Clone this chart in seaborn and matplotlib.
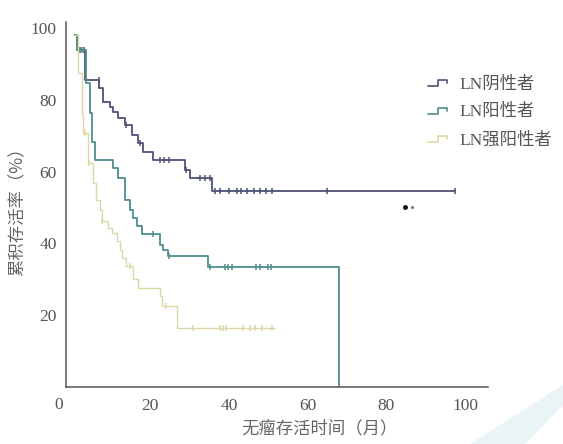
import numpy as np
import matplotlib
matplotlib.use("Agg")
import matplotlib.pyplot as plt
from matplotlib.lines import Line2D
from matplotlib.legend_handler import HandlerBase
from matplotlib.patches import Polygon
import seaborn as sns

sns.set_style("white")
plt.rcParams['font.family'] = ['Liberation Serif', 'Noto Sans CJK SC', 'DejaVu Sans']

# ---------------- data ----------------
labels = ["LN阴性者", "LN阳性者", "LN强阳性者"]
colors = ["#4d5176", "#4f8e8c", "#dcd8a6"]

neg_t = [1.0, 1.5, 3.6, 7.1, 8.0, 9.8, 10.6, 11.9, 13.6, 15.3, 17.0, 18.2, 20.8, 28.9, 30.1, 35.6, 97.5]
neg_s = [98, 94, 85.5, 83.2, 79.5, 78, 76.5, 75, 73, 70.3, 68, 65.6, 63.3, 60.5, 58.3, 54.5, 54.5]
neg_cens = [2.2, 3.2, 7.0, 14.0, 17.5, 22.5, 23.5, 24.8, 29.2, 32.7, 34.0, 35.2, 36.5, 37.7,
            40.0, 42.0, 43.2, 44.5, 46.5, 48.0, 49.5, 51.0, 65.0, 97.5]

pos_t = [1.0, 1.5, 3.8, 4.7, 5.2, 6.0, 10.7, 11.9, 13.6, 14.9, 15.7, 16.6, 17.9, 22.5, 23.3, 24.5, 34.8, 68.0]
pos_s = [98, 94, 84.7, 76.4, 68.4, 63.3, 61, 58.3, 52.2, 49.4, 47.2, 44.8, 42.5, 39.7, 38.3, 36.5, 33.4, 0]
pos_cens = [2.6, 20.8, 24.8, 35.2, 39.0, 39.8, 40.7, 47.0, 47.9, 50.0, 50.6]

strong_t = [1.0, 1.8, 2.6, 3.0, 4.3, 5.4, 6.4, 7.3, 7.7, 9.4, 10.3, 11.5, 12.4, 13.0, 14.0,
            15.7, 17.0, 22.5, 23.0, 26.8, 51.7]
strong_s = [98, 87.5, 75.4, 70.8, 62.5, 56.9, 52.2, 49.4, 46.2, 44.4, 43.0, 40.6, 38.3, 36.0,
            33.7, 30.0, 27.7, 25.4, 22.6, 16.3, 16.3]
strong_cens = [3.5, 4.6, 7.9, 15.0, 24.0, 31.0, 37.7, 38.6, 39.4, 43.6, 45.4, 46.6, 48.3, 50.9]

xticks = [20, 40, 60, 80, 100]
origin_label = "0"
yticks = [20, 40, 60, 80, 100]
xlabel = "无瘤存活时间（月）"
ylabel = "累积存活率（%）"

series = [(neg_t, neg_s, neg_cens), (pos_t, pos_s, pos_cens), (strong_t, strong_s, strong_cens)]

# ---------------- figure ----------------
fig = plt.figure(figsize=(5.63, 4.44), dpi=100)
fig.patch.set_facecolor("white")

# faint watermark band bottom-right
fig.patches.append(Polygon([[470/563, 0], [1.0, 1 - 385/444], [1.0, 1 - 405/444], [525/563, 0]],
                           closed=True, transform=fig.transFigure, facecolor="#eaf3f6",
                           edgecolor="none", zorder=0))

ax = fig.add_axes([66.4/563, 1 - 387/444, (488 - 66.4)/563, (387 - 22)/444])
ax.set_facecolor("none")

lws = [1.3, 1.3, 1.0]
for (t, s, c), col, lab, lw in zip(series, colors, labels, lws):
    sns.lineplot(x=t, y=s, drawstyle="steps-post", color=col, lw=lw, ax=ax,
                 estimator=None, sort=False, legend=False)
    t_arr = np.asarray(t)
    s_arr = np.asarray(s)
    idx = np.searchsorted(t_arr, np.asarray(c), side="right") - 1
    cy = s_arr[np.clip(idx, 0, len(s_arr) - 1)]
    sns.scatterplot(x=c, y=cy, marker="|", s=18, color=col, linewidth=1.1, ax=ax, legend=False)

ax.set_xlim(-1.24, 105.8)
ax.set_ylim(0, 101.7)
ax.set_xticks(xticks)
ax.set_yticks(yticks)
for sp in ["top", "right"]:
    ax.spines[sp].set_visible(False)
for sp in ["left", "bottom"]:
    ax.spines[sp].set_color("#555555")
    ax.spines[sp].set_linewidth(1.1)
ax.tick_params(direction="in", length=5, width=1, colors="#555555",
               labelsize=12.5, labelcolor="#555555")
ax.tick_params(axis="x", pad=8)
ax.tick_params(axis="y", pad=7)
ax.set_xlabel("")
ax.set_ylabel("")

fig.text(59/563, 1 - 405/444, origin_label, ha="center", va="center", fontsize=12.5,
         color="#555555")
fig.text(320/563, 1 - 428/444, xlabel, ha="center", va="center", fontsize=12.5,
         color="#666666", family=['Noto Sans CJK SC', 'DejaVu Sans'])
fig.text(18/563, 1 - 207/444, ylabel, ha="center", va="center", rotation=90, fontsize=12.5,
         color="#666666", family=['Noto Sans CJK SC', 'DejaVu Sans'])

# small stray dots
ax.plot([(405 - 71.3)/3.94], [(388 - 207)/3.6], marker="o", ms=2.5, color="#111111")
ax.plot([(412 - 71.3)/3.94], [(388 - 207)/3.6], marker="o", ms=1.2, color="#777777")


class StepHandler(HandlerBase):
    def create_artists(self, legend, orig_handle, xdescent, ydescent, width, height,
                       fontsize, trans):
        xs = [0, width*0.5, width*0.5, width*0.9, width*0.9]
        ys = [height*0.2, height*0.2, height*0.65, height*0.65, height*0.45]
        ln = Line2D(xs, ys, color=orig_handle.get_color(), lw=1.2)
        ln.set_transform(trans)
        return [ln]


handles = [Line2D([0], [0], color=c) for c in colors]
leg = ax.legend(handles, labels, handler_map={Line2D: StepHandler()},
                loc="upper left", bbox_to_anchor=(428/563, 1 - 76/444),
                bbox_transform=fig.transFigure, frameon=False, fontsize=12.5,
                handlelength=1.2, handletextpad=0.6, labelspacing=0.68, borderpad=0,
                borderaxespad=0)
for txt in leg.get_texts():
    txt.set_color("#555555")

fig.savefig("out.png", dpi=100)
